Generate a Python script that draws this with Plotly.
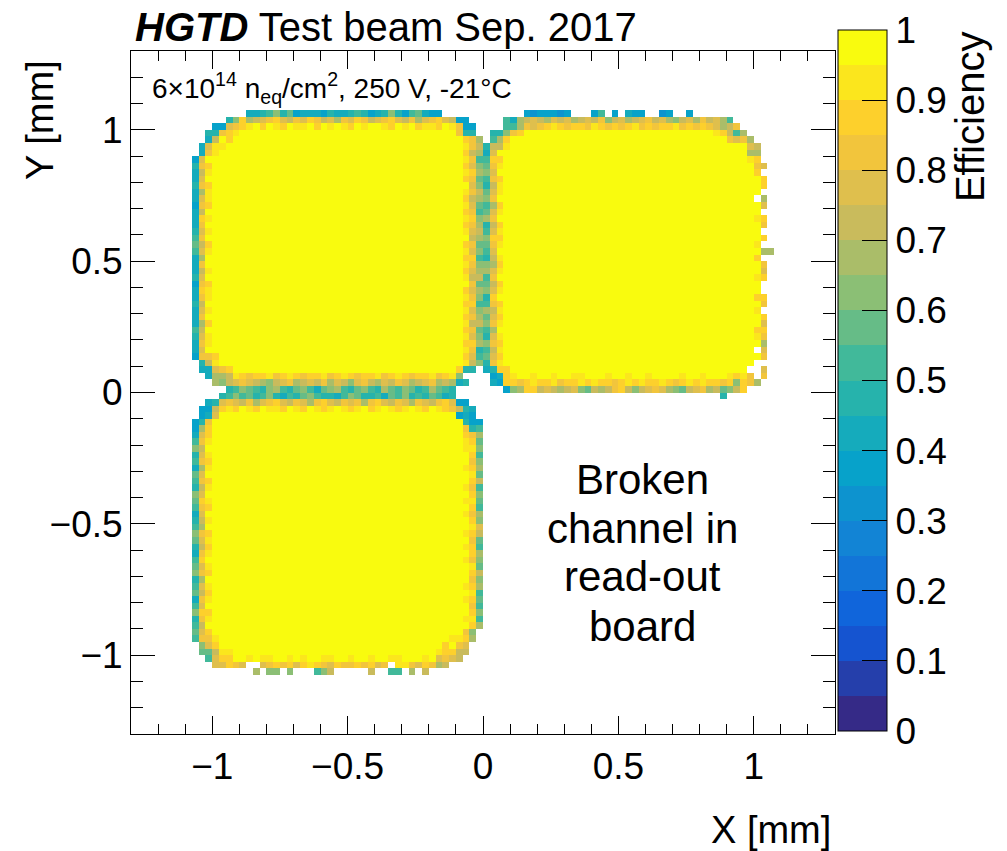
import numpy as np
import plotly.graph_objects as go

# ---------------- binning of the efficiency map (mm) ----------------
X_MIN, X_MAX = -1.3, 1.3
BIN = 0.025
N_BINS = 104

# efficiency classes: letter -> 0.05-wide band (a = 0-0.05 ... t = 0.95-1.0), '.' = no entries
BANDS = "abcdefghijklmnopqrst"
INTERIOR_EFF = 0.99

# pad outlines in mm: [x0, x1, y0, y1] and corner radii [top-left, top-right, bottom-right, bottom-left]
PAD_EDGES = {
    "A": [-1.075, 0.0, 0.0, 1.075],
    "B": [0.0, 1.075, 0.0, 1.075],
    "C": [-1.075, 0.0, -1.075, 0.0],
}
PAD_CORNERS = {
    "A": [0.25, 0.15, 0.15, 0.20],
    "B": [0.20, 0.30, 0.15, 0.12],
    "C": [0.15, 0.15, 0.25, 0.20],
}

# efficiency of the three outermost cell rings of every pad side,
# listed along the side (left->right for top/bottom, bottom->top for left/right)
RINGS = {
    "A": {
        "top": [
            "hhhhhjm." "iijkmjlhiiihjiijkjhijmjhklihh" "..hhhh",
            "nnnnq" "pqr" "nopqrpoqprqopnqprqopqrpoqnpqr" "poqjhh",
            "qqrrs" "rsrstrtsrtsstrtstsrtsttsrtstrssrts" "rqpo",
        ],
        "left": [
            "jjiij" "hiijk" "iiiji" "ihjii" "iklkj" "iiihi" "ijiij" "hiiij" "hhh",
            "noqpo" "qpqpo" "nqpoq" "rqpoq" "npoqp" "qroqp" "nqpoq" "pqpon" "lkj",
            "rrsts" "rtsst" "rtsts" "srtst" "tsrts" "tstrs" "srtsr" "tsstr" "qpo",
        ],
        "right": [
            "...j" "mkjnm" "lonmk" "mnlon" "mkmln" "onmkl" "nomln" "mknon" "jhhh",
            "..." "jopqr" "pqoqp" "rqpqo" "pqrpq" "opqrq" "poqpq" "rpqoq" "qjh" "..",
            ".." "irsrs" "rsrsr" "srsrt" "srsrs" "rtsrs" "rsrst" "rsrsr" "srqpi" ".",
        ],
        "bottom": [
            "...nm" "jkmlk" "jmnkj" "lmkil" "mnkjl" "mkjnl" "kmljk" "nlkji" "j..",
            "..." "mnopq" "ponmo" "pqnop" "oqnpo" "mpqon" "poqpn" "opqno" "nml" "..",
            "..qrq" "rsrqr" "rsqrs" "rqrrs" "qrsrq" "rrsqr" "srqrr" "sqrsr" "qrr",
        ],
    },
    "B": {
        "top": [
            "...ki" "." "hghhhgh" "..." "hk" "." "h" "." "ihh" ".." "gh" ".." "h" "..." "pnk" "qnnn" "..",
            "..." "iknop" "onpop" "nopoq" "mopno" "pqopn" "mopnq" "opnok" "nqrqp",
            ".." "jnqrq" "pqrsr" "qrrqs" "rqrqr" "sqrqr" "rsqrq" "rqsrq" "psrqs" ".",
        ],
        "left": [
            ".ih" "ijlkm" "jkmln" "kjmlk" "nmjkl" "mkjnl" "kmljk" "mlkij" "kj...",
            ".." "ijqpo" "qpnqp" "oqrpo" "qpnop" "qrpoq" "pnqpo" "qpqrp" "onmji" ".",
            "." "hqrsr" "srsts" "rsrts" "rtsrs" "tsrsr" "tsrts" "srtsr" "tsrqj" "k.",
        ],
        "right": [
            "..qp" "................." "n" "............" "p" ".." "on" "....",
            "....." "qpnqrp" "r.qr.." "rpq.n." "r.qr.p" "n.rr.q" "rnpq" "....",
            "....." "t.tsrt" "tstrtt" "sttrts" "tttstt" ".tttrt" "stttsr" "qp",
        ],
        "bottom": [
            "..h" "hmnrr" "opono" "pmlon" "oqrom" "opqpn" "mlopq" "nolmo" "rq" "n..",
            "..h" "rrqrs" "rrsqr" "rsrsr" "rqrsr" "srrsr" "qrsrs" "rrqrm" "rqr" "..",
            ".." "jrstt" "sttst" "tsstt" "tstts" "ttstt" "ttstt" "sttts" "rsrqs" ".",
        ],
    },
    "C": {
        "top": [
            "jjij" "jkmkl" "jkmji" "kjlmk" "jjikm" "ljjki" "lkmjk" "jlkij" "hhij",
            "hijop" "qpoqn" "pqrpo" "qpnqr" "poqpq" "nqrpo" "qpnqp" "oqrpo" "jih",
            "ijrsr" "srtsr" "tssrt" "srtsr" "stsrs" "trsts" "rstsr" "tsrqj" "ih.",
        ],
        "left": [
            "kkklmk" "lkjmk" "ilkjm" "lkijl" "mkjik" "lmjkl" "ikjmk" "ihh" "hhij",
            "lmnop" "qpoqr" "pqopn" "qprqo" "pqnop" "qrpoq" "pnqpo" "qpnji" "hij",
            "oprsr" "srtsr" "tsrst" "rstsr" "srtst" "rstsr" "tsrst" "srrqp" "qrr",
        ],
        "right": [
            "nnoopnm" "nkmkl" "knmol" "mnklo" "pmnkl" "mkoln" "mkmln" "kh" "hijk",
            "mnopq" "rqrsr" "qrsrq" "rsqrr" "qrsrq" "rsrqr" "srqrs" "rqjhi" "jkl",
            "pqrst" "sttst" "tstst" "ttsts" "tstts" "tstst" "tstts" "srqjh" "ijk",
        ],
        "bottom": [
            "kmopp" "....n" ".mm.m" "...km" "o...." ".o..k" "k.n.o" ".nopo" "nmk",
            "nopqr" "rqp..pqrqrprsrqprqqrqrpq.ssqprqpqrponm",
            "qrrrs" "sttst" "sstts" "tstts" "sttst" "tstts" "sttts" "tsrrq" "qqq",
        ],
    },
}

# isolated bins outside the pad outlines
STRAY_X = [0.8875]
STRAY_Y = [-0.0125]
STRAY_CLASS = ["j"]

# axis ticks and colour-bar labels
AXIS_TICKS = [-1.0, -0.5, 0.0, 0.5, 1.0]
CBAR_TICKS = [0.0, 0.1, 0.2, 0.3, 0.4, 0.5, 0.6, 0.7, 0.8, 0.9, 1.0]
CBAR_LABELS = ["0", "0.1", "0.2", "0.3", "0.4", "0.5", "0.6", "0.7", "0.8", "0.9", "1"]

# note on the empty read-out channel, one entry per line
NOTE_LINES = ["Broken", "channel in", "read-out", "board"]
NOTE_Y = [0.3720, 0.3016, 0.2299, 0.1567]


def class_eff(ch):
    return (BANDS.index(ch) + 0.5) / len(BANDS)


def to_bin(v):
    return int(round((v - X_MIN) / BIN))


centres = X_MIN + BIN * (np.arange(N_BINS) + 0.5)
eff = np.full((N_BINS, N_BINS), np.nan)

for pad, (x0, x1, y0, y1) in PAD_EDGES.items():
    i0, i1, j0, j1 = to_bin(x0), to_bin(x1), to_bin(y0), to_bin(y1)
    r_tl, r_tr, r_br, r_bl = [r / BIN for r in PAD_CORNERS[pad]]
    for j in range(j0, j1):
        for i in range(i0, i1):
            dl, dr = i - i0 + 0.5, i1 - i - 0.5
            db, dt = j - j0 + 0.5, j1 - j - 0.5
            dx, dy = min(dl, dr), min(db, dt)
            if dt <= db:
                rad = r_tl if dl <= dr else r_tr
            else:
                rad = r_bl if dl <= dr else r_br
            if dx < rad and dy < rad:
                dist = rad - np.hypot(rad - dx, rad - dy)
            else:
                dist = min(dx, dy)
            if dist <= 0:
                continue
            ring = int(dist)
            if ring >= 3:
                eff[j, i] = INTERIOR_EFF
                continue
            if dx <= dy:
                side = "left" if dl <= dr else "right"
                pos = j - j0
            else:
                side = "bottom" if db <= dt else "top"
                pos = i - i0
            code = RINGS[pad][side][ring]
            ch = code[pos] if pos < len(code) else "t"
            if ch == ".":
                continue
            eff[j, i] = class_eff(ch)

for sx, sy, sc in zip(STRAY_X, STRAY_Y, STRAY_CLASS):
    eff[to_bin(sy - BIN / 2), to_bin(sx - BIN / 2)] = class_eff(sc)

# ROOT "kBird" palette, cut into 20 equal contours
BIRD_STOPS = [0.0, 0.125, 0.25, 0.375, 0.5, 0.625, 0.75, 0.875, 1.0]
BIRD_R = [0.2082, 0.0592, 0.0780, 0.0232, 0.1802, 0.5301, 0.8186, 0.9956, 0.9764]
BIRD_G = [0.1664, 0.3599, 0.5041, 0.6419, 0.7178, 0.7492, 0.7328, 0.7862, 0.9832]
BIRD_B = [0.5293, 0.8684, 0.8385, 0.7914, 0.6425, 0.4662, 0.3499, 0.1968, 0.0539]
n_cont = len(BANDS)
colorscale = []
for b in range(n_cont):
    f = b / (n_cont - 1)
    rgb = [int(round(255 * np.interp(f, BIRD_STOPS, ch))) for ch in (BIRD_R, BIRD_G, BIRD_B)]
    col = "rgb({},{},{})".format(*rgb)
    colorscale.append([b / n_cont, col])
    colorscale.append([(b + 1) / n_cont, col])

FONT = "Liberation Sans, Arial, Helvetica, sans-serif"
TICK_SIZE = 37

fig = go.Figure()
fig.add_trace(go.Heatmap(
    x=centres, y=centres, z=eff,
    zmin=0, zmax=1, colorscale=colorscale,
    hoverongaps=False,
    colorbar=dict(
        thickness=49, thicknessmode="pixels",
        len=701, lenmode="pixels",
        x=1.0043, xanchor="left", xpad=0,
        y=0.5176, yanchor="middle", ypad=0,
        outlinecolor="black", outlinewidth=1,
        ticks="inside", ticklen=25, tickcolor="black", tickwidth=1,
        tickvals=CBAR_TICKS, ticktext=CBAR_LABELS,
        tickfont=dict(family=FONT, size=TICK_SIZE, color="black"),
    ),
))

axis_common = dict(
    range=[X_MIN, X_MAX], tickvals=AXIS_TICKS,
    showgrid=False, zeroline=False,
    showline=True, linecolor="black", linewidth=1, mirror="allticks",
    ticks="inside", tickcolor="black", tickwidth=1,
    tickfont=dict(family=FONT, size=TICK_SIZE, color="black"),
)
fig.update_xaxes(**axis_common, ticklen=18,
                 minor=dict(dtick=0.1, tick0=0, ticks="inside", ticklen=10, tickcolor="black"))
fig.update_yaxes(**axis_common, ticklen=24,
                 minor=dict(dtick=0.1, tick0=0, ticks="inside", ticklen=12, tickcolor="black"))

annotations = [
    dict(text="<b><i>HGTD</i></b> Test beam Sep. 2017", x=0.003, y=1.0351,
         xanchor="left", yanchor="middle", font=dict(size=40)),
    dict(text="6×10<sup>14</sup> n<sub>eq</sub>/cm<sup>2</sup>, 250 V, -21°C", x=0.027, y=0.9458,
         xanchor="left", yanchor="middle", font=dict(size=28)),
    dict(text="Y [mm]", x=-0.1293, y=0.9898, xanchor="center", yanchor="top",
         textangle=-90, font=dict(size=38)),
    dict(text="X [mm]", x=0.997, y=-0.1406, xanchor="right", yanchor="middle",
         font=dict(size=38)),
    dict(text="Efficiency", x=1.1918, y=1.0307, xanchor="center", yanchor="top",
         textangle=-90, font=dict(size=40)),
]
for line, ly in zip(NOTE_LINES, NOTE_Y):
    annotations.append(dict(text=line, x=0.727, y=ly, xanchor="center", yanchor="middle",
                            font=dict(size=42)))
for a in annotations:
    a.update(xref="paper", yref="paper", showarrow=False)
    a["font"].update(family=FONT, color="black")

fig.update_layout(
    width=1007, height=851,
    margin=dict(l=131, r=172, t=51, b=117),
    paper_bgcolor="white", plot_bgcolor="white",
    font=dict(family=FONT, color="black"),
    annotations=annotations,
    showlegend=False,
)

fig.write_html("out.html")
